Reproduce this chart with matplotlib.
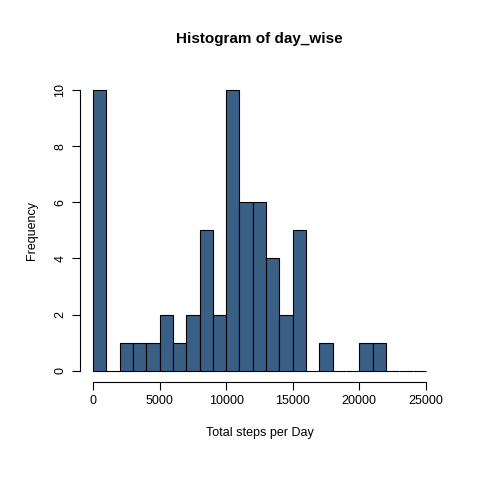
import numpy as np
import matplotlib
matplotlib.use("Agg")
import matplotlib.pyplot as plt

# bin edges (width 1000) and counts
edges = np.arange(0, 26000, 1000)
counts = [10, 0, 1, 1, 1, 2, 1, 2, 5, 2, 10, 6, 6, 4, 2, 5, 0, 1, 0, 0, 1, 1, 0, 0, 0]

plt.rcParams['font.family'] = ['Liberation Sans', 'DejaVu Sans']
fig = plt.figure(figsize=(4.8, 4.8), dpi=100)
ax = fig.add_axes([0.166, 0.204, 0.749, 0.632])

ax.bar(edges[:-1], counts, width=1000, align='edge',
       color='#3a5f85', edgecolor='black', linewidth=0.8)

ax.set_xlim(-1000, 26000)
ax.set_ylim(-0.4, 10.4)
for s in ['top', 'right']:
    ax.spines[s].set_visible(False)
ax.spines['bottom'].set_bounds(0, 25000)
ax.spines['left'].set_bounds(0, 10)
ax.spines['bottom'].set_position(('outward', 0))
ax.set_xticks(range(0, 25001, 5000))
ax.set_yticks(range(0, 11, 2))
ax.tick_params(labelsize=9, length=6)
for lab in ax.get_yticklabels():
    lab.set_rotation(90)
    lab.set_va('center')

ax.set_title('Histogram of day_wise', fontsize=11, fontweight='bold', pad=26)
ax.set_xlabel('Total steps per Day', fontsize=9, labelpad=14)
ax.set_ylabel('Frequency', fontsize=9, labelpad=12)

fig.savefig('out.png', dpi=100)
